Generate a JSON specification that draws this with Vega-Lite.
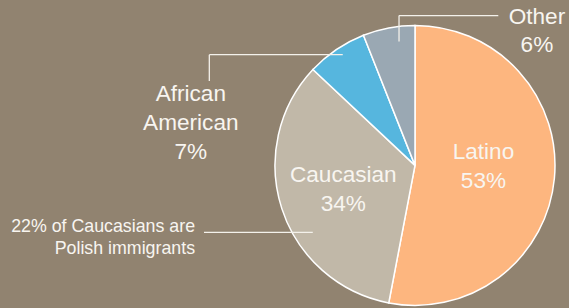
{
  "$schema": "https://vega.github.io/schema/vega-lite/v6.json",
  "width": 569,
  "height": 308,
  "autosize": {"type": "fit", "contains": "padding"},
  "padding": 0,
  "background": "#918370",
  "config": {"view": {"stroke": null}},
  "data": {
    "values": [
      {"category": "Latino", "share": 53, "label": "Latino\n53%"},
      {"category": "Caucasian", "share": 34, "label": "Caucasian\n34%"},
      {"category": "African American", "share": 7, "label": "African\nAmerican\n7%"},
      {"category": "Other", "share": 6, "label": "Other\n6%"}
    ]
  },
  "encoding": {
    "x": {"type": "quantitative", "scale": {"domain": [-2.964, 1.1], "nice": false, "zero": false}, "axis": null},
    "y": {"type": "quantitative", "scale": {"domain": [-1.011, 1.189], "nice": false, "zero": false}, "axis": null}
  },
  "layer": [
    {
      "mark": {"type": "arc", "radius": 140, "stroke": "#FFFFFF", "strokeWidth": 1.5},
      "encoding": {
        "x": {"datum": 0, "type": "quantitative"},
        "y": {"datum": 0, "type": "quantitative"},
        "theta": {"field": "share", "type": "quantitative", "stack": true},
        "order": {"field": "share", "type": "quantitative", "sort": "descending"},
        "color": {
          "field": "category", "type": "nominal", "legend": null,
          "scale": {"domain": ["Latino", "Caucasian", "African American", "Other"], "range": ["#FDB67F", "#C1B8A8", "#56B6DE", "#9AA8B3"]}
        }
      }
    },
    {
      "data": {"values": [{}]},
      "mark": {"type": "rule", "color": "#F4F1EB", "strokeWidth": 1.3},
      "encoding": {"x": {"datum": -0.114}, "x2": {"datum": 0.595}, "y": {"datum": 1.077}}
    },
    {
      "data": {"values": [{}]},
      "mark": {"type": "rule", "color": "#F4F1EB", "strokeWidth": 1.3},
      "encoding": {"x": {"datum": -0.114}, "y": {"datum": 1.077}, "y2": {"datum": 0.891}}
    },
    {
      "data": {"values": [{}]},
      "mark": {"type": "rule", "color": "#F4F1EB", "strokeWidth": 1.3},
      "encoding": {"x": {"datum": -1.469}, "x2": {"datum": -0.516}, "y": {"datum": 0.796}}
    },
    {
      "data": {"values": [{}]},
      "mark": {"type": "rule", "color": "#F4F1EB", "strokeWidth": 1.3},
      "encoding": {"x": {"datum": -1.469}, "y": {"datum": 0.796}, "y2": {"datum": 0.606}}
    },
    {
      "data": {"values": [{}]},
      "mark": {"type": "rule", "color": "#F4F1EB", "strokeWidth": 1.3},
      "encoding": {"x": {"datum": -1.507}, "x2": {"datum": -0.73}, "y": {"datum": -0.482}}
    },
    {
      "transform": [{"filter": "datum.category === 'Latino'"}],
      "mark": {"type": "text", "font": "Liberation Sans", "fontSize": 22.6, "lineHeight": 29, "lineBreak": "\n", "align": "center", "baseline": "middle", "color": "#F8F5F0"},
      "encoding": {"x": {"datum": 0.489}, "y": {"datum": 0.099}, "text": {"field": "label"}}
    },
    {
      "transform": [{"filter": "datum.category === 'Caucasian'"}],
      "mark": {"type": "text", "font": "Liberation Sans", "fontSize": 22.6, "lineHeight": 29, "lineBreak": "\n", "align": "center", "baseline": "middle", "color": "#F8F5F0"},
      "encoding": {"x": {"datum": -0.512}, "y": {"datum": -0.068}, "text": {"field": "label"}}
    },
    {
      "transform": [{"filter": "datum.category === 'African American'"}],
      "mark": {"type": "text", "font": "Liberation Sans", "fontSize": 22.6, "lineHeight": 29, "lineBreak": "\n", "align": "center", "baseline": "middle", "color": "#F8F5F0"},
      "encoding": {"x": {"datum": -1.601}, "y": {"datum": 0.513}, "text": {"field": "label"}}
    },
    {
      "transform": [{"filter": "datum.category === 'Other'"}],
      "mark": {"type": "text", "font": "Liberation Sans", "fontSize": 22.6, "lineHeight": 28, "lineBreak": "\n", "align": "center", "baseline": "middle", "color": "#F8F5F0"},
      "encoding": {"x": {"datum": 0.871}, "y": {"datum": 1.068}, "text": {"field": "label"}}
    },
    {
      "data": {"values": [{"note": "22% of Caucasians are\nPolish immigrants"}]},
      "mark": {"type": "text", "font": "Liberation Sans", "fontSize": 17.8, "lineHeight": 21.5, "lineBreak": "\n", "align": "right", "baseline": "middle", "color": "#F8F5F0"},
      "encoding": {"x": {"datum": -1.571}, "y": {"datum": -0.446}, "text": {"field": "note"}}
    }
  ]
}
